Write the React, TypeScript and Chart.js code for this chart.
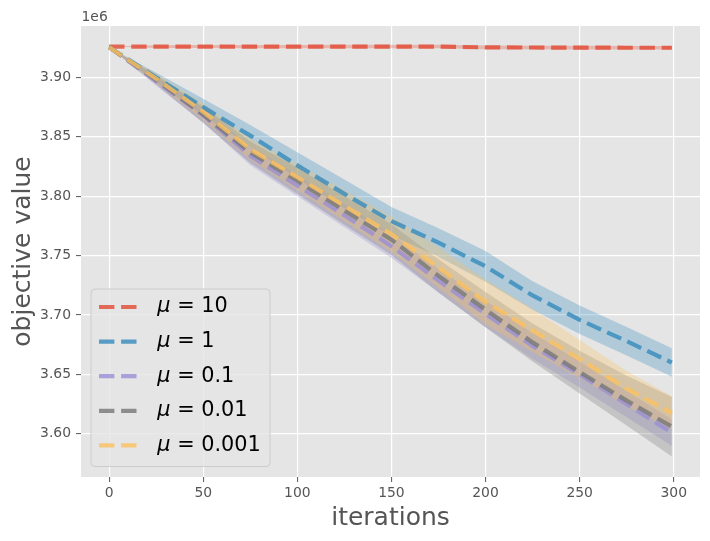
import React, { useRef, useEffect } from 'react';
import Chart from 'chart.js/auto';

// values, in units of 1e6
const iterations = [0, 25, 50, 75, 100, 125, 150, 175, 200, 225, 250, 275, 299];
const xTicks = [0, 50, 100, 150, 200, 250, 300];
const yTicks = [3.6, 3.65, 3.7, 3.75, 3.8, 3.85, 3.9];

const muLabels = ['10', '1', '0.1', '0.01', '0.001'];
const muColors = ['#E24A33', '#348ABD', '#988ED5', '#777777', '#FBC15E'];

const meanMu10 = [3.926, 3.926, 3.926, 3.926, 3.926, 3.926, 3.926, 3.926, 3.9253, 3.9252, 3.9251, 3.925, 3.925];
const stdMu10 = [0, 0.0012, 0.0013, 0.0014, 0.0014, 0.0015, 0.0015, 0.0015, 0.0015, 0.0015, 0.0015, 0.0015, 0.0015];

const meanMu1 = [3.9255, 3.9, 3.875, 3.851, 3.826, 3.802, 3.779, 3.761, 3.741, 3.7165, 3.696, 3.678, 3.66];
const stdMu1 = [0, 0.004, 0.007, 0.009, 0.011, 0.012, 0.012, 0.012, 0.013, 0.012, 0.012, 0.012, 0.012];

const meanMu01 = [3.9255, 3.897, 3.868, 3.834, 3.809, 3.784, 3.758, 3.729, 3.701, 3.674, 3.65, 3.625, 3.601];
const stdMu01 = [0, 0.004, 0.006, 0.008, 0.009, 0.01, 0.01, 0.01, 0.011, 0.011, 0.011, 0.011, 0.011];

const meanMu001 = [3.9255, 3.898, 3.8687, 3.837, 3.813, 3.788, 3.7635, 3.733, 3.7045, 3.677, 3.652, 3.628, 3.606];
const stdMu001 = [0, 0.004, 0.007, 0.009, 0.011, 0.012, 0.013, 0.014, 0.015, 0.016, 0.018, 0.021, 0.025];

const meanMu0001 = [3.9255, 3.899, 3.871, 3.8395, 3.816, 3.792, 3.768, 3.74, 3.711, 3.687, 3.663, 3.638, 3.6176];
const stdMu0001 = [0, 0.004, 0.007, 0.009, 0.011, 0.013, 0.015, 0.017, 0.019, 0.018, 0.016, 0.015, 0.014];

const means = [meanMu10, meanMu1, meanMu01, meanMu001, meanMu0001];
const stds = [stdMu10, stdMu1, stdMu01, stdMu001, stdMu0001];

const FONT = 'DejaVu Sans';
const DASH = [15.4, 6.7];
const LINE_W = 4.2;

function withAlpha(hex: string, a: number) {
  const n = parseInt(hex.slice(1), 16);
  return `rgba(${(n >> 16) & 255}, ${(n >> 8) & 255}, ${n & 255}, ${a})`;
}

const toPoints = (ys: number[]) => ys.map((y, i) => ({ x: iterations[i], y }));

const ggplotPlugin = {
  id: 'ggplotDecor',
  beforeDraw(chart: any) {
    const { ctx, chartArea: ca } = chart;
    ctx.save();
    ctx.fillStyle = '#E5E5E5';
    ctx.fillRect(ca.left, ca.top, ca.right - ca.left, ca.bottom - ca.top);
    ctx.restore();
  },
  afterDraw(chart: any) {
    const { ctx, chartArea: ca } = chart;
    ctx.save();

    // offset text of the y axis
    ctx.fillStyle = '#555';
    ctx.font = `13.9px "${FONT}"`;
    ctx.textAlign = 'left';
    ctx.textBaseline = 'alphabetic';
    ctx.fillText('1e6', ca.left + 0.5, 20.5);

    // legend
    const w = 179, h = 177.5;
    const left = ca.left + 10;
    const top = ca.bottom - 10.5 - h;
    ctx.beginPath();
    ctx.roundRect(left, top, w, h, 4);
    ctx.fillStyle = 'rgba(229, 229, 229, 0.8)';
    ctx.fill();
    ctx.strokeStyle = '#CCCCCC';
    ctx.lineWidth = 1;
    ctx.stroke();

    muLabels.forEach((label, i) => {
      const y = top + 18 + i * 34.6;
      ctx.beginPath();
      ctx.setLineDash(DASH);
      ctx.lineWidth = LINE_W;
      ctx.strokeStyle = withAlpha(muColors[i], 0.8);
      ctx.moveTo(left + 8, y);
      ctx.lineTo(left + 46, y);
      ctx.stroke();
      ctx.setLineDash([]);

      ctx.fillStyle = '#000';
      ctx.textBaseline = 'middle';
      ctx.font = `italic 20.8px "${FONT}"`;
      const tx = left + 66.3;
      ctx.fillText('μ', tx, y);
      const mw = ctx.measureText('μ').width;
      ctx.font = `20.8px "${FONT}"`;
      ctx.fillText(` = ${label}`, tx + mw, y);
    });
    ctx.restore();
  },
};

export default function App() {
  const canvasRef = useRef<HTMLCanvasElement>(null);

  useEffect(() => {
    const canvas = canvasRef.current;
    if (!canvas) return;

    const datasets: any[] = [];
    means.forEach((mean, k) => {
      const std = stds[k];
      datasets.push({
        label: `upper ${k}`,
        data: toPoints(mean.map((m, i) => m + std[i])),
        borderWidth: 0,
        pointRadius: 0,
        fill: false,
        order: 30 - k,
      });
      datasets.push({
        label: `lower ${k}`,
        data: toPoints(mean.map((m, i) => m - std[i])),
        borderWidth: 0,
        pointRadius: 0,
        backgroundColor: withAlpha(muColors[k], 0.3),
        fill: '-1',
        order: 30 - k,
      });
    });
    means.forEach((mean, k) => {
      datasets.push({
        label: `μ = ${muLabels[k]}`,
        data: toPoints(mean),
        borderColor: withAlpha(muColors[k], 0.8),
        borderWidth: LINE_W,
        borderDash: DASH,
        borderCapStyle: 'butt',
        pointRadius: 0,
        tension: 0,
        fill: false,
        order: 10 - k,
      });
    });

    const tickFont = { family: FONT, size: 13.9 };
    const titleFont = { family: FONT, size: 25 };

    const chart = new Chart(canvas, {
      type: 'line',
      data: { datasets },
      plugins: [ggplotPlugin],
      options: {
        animation: false,
        responsive: true,
        maintainAspectRatio: false,
        layout: { padding: { top: 26, right: 10, left: 0, bottom: 0 } },
        plugins: {
          legend: { display: false },
          tooltip: { enabled: false },
        },
        scales: {
          x: {
            type: 'linear',
            min: -14.95,
            max: 313.95,
            afterBuildTicks: (s: any) => { s.ticks = xTicks.map(v => ({ value: v })); },
            afterFit: (s: any) => { s.height = 64; },
            ticks: { font: tickFont, color: '#555', padding: 3, maxRotation: 0 },
            grid: { color: '#fff', lineWidth: 1.2, tickColor: '#555', tickLength: 5, tickWidth: 1 },
            border: { display: false },
            title: { display: true, text: 'iterations', font: titleFont, color: '#555', padding: { top: 0, bottom: 8 } },
          },
          y: {
            type: 'linear',
            min: 3.5637,
            max: 3.9433,
            afterBuildTicks: (s: any) => { s.ticks = yTicks.map(v => ({ value: v })); },
            afterFit: (s: any) => { s.width = 81; },
            ticks: { font: tickFont, color: '#555', padding: 5, callback: (v: any) => Number(v).toFixed(2) },
            grid: { color: '#fff', lineWidth: 1.2, tickColor: '#555', tickLength: 5, tickWidth: 1 },
            border: { display: false },
            title: { display: true, text: 'objective value', font: titleFont, color: '#555', padding: { top: 8, bottom: 0 } },
          },
        },
      },
    });

    return () => {
      chart.destroy();
    };
  }, []);

  return (
    <div style={{ position: 'absolute', left: 0, top: 0, width: 710, height: 541, background: '#fff' }}>
      <canvas ref={canvasRef} />
    </div>
  );
}
